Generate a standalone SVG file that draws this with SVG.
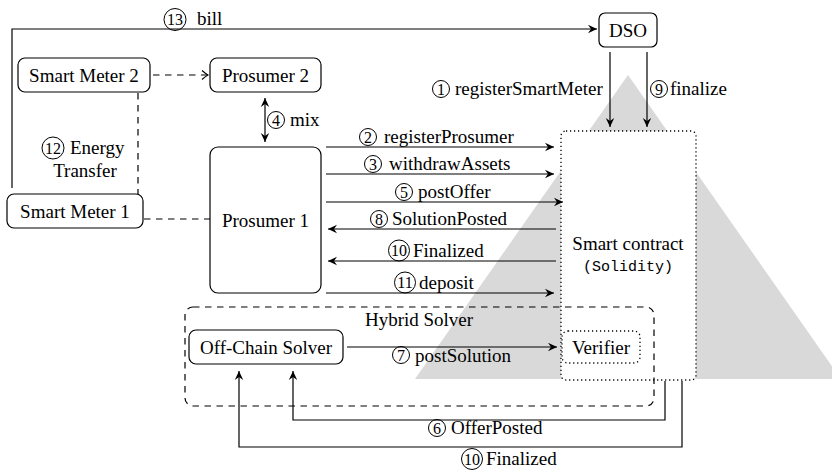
<svg xmlns="http://www.w3.org/2000/svg" width="832" height="475" viewBox="0 0 832 475">
<style>
text{font-family:"Liberation Serif","Times New Roman",serif;font-size:19px;fill:#000}
.mid{text-anchor:middle}
.mono{font-family:"Liberation Mono","Courier New",monospace;font-size:15px}
.num{font-size:16px;text-anchor:middle}
.box{fill:#fff;stroke:#000;stroke-width:1.2}
.dot{fill:#fff;stroke:#000;stroke-width:1.3;stroke-dasharray:1.2 2.8}
.dash{fill:none;stroke:#000;stroke-width:1.2;stroke-dasharray:6.5 5.5}
.ln{fill:none;stroke:#000;stroke-width:1.2}
.arr{marker-end:url(#stealth)}
.circ{fill:none;stroke:#000;stroke-width:1}
</style>
<defs>
<marker id="stealth" viewBox="-10 -5 11 10" refX="0" refY="0" markerWidth="11" markerHeight="10" markerUnits="userSpaceOnUse" orient="auto-start-reverse">
<path d="M0,0 L-9,-4.2 L-6,0 L-9,4.2 Z" fill="#000"/>
</marker>
<marker id="open" viewBox="-8 -6 9 12" refX="0" refY="0" markerWidth="9" markerHeight="12" markerUnits="userSpaceOnUse" orient="auto">
<path d="M-6,-4.5 Q-2,-1 0,0 Q-2,1 -6,4.5" fill="none" stroke="#000" stroke-width="1.1"/>
</marker>
</defs>

<polygon id="backdrop" points="628,75 415,379 841,379" fill="#d9d9d9"/>

<g id="smart-contract">
<rect class="dot" x="561" y="131" width="135" height="249" rx="5"/>
<text class="mid" x="628" y="250">Smart contract</text>
<text class="mid mono" x="628" y="271">(Solidity)</text>
</g>
<g id="verifier">
<rect class="dot" x="562" y="331" width="78" height="32" rx="6"/>
<text class="mid" x="601" y="354">Verifier</text>
</g>
<g id="hybrid-solver">
<rect class="dash" x="185" y="307" width="469" height="99" rx="8"/>
<text class="mid" x="419" y="326">Hybrid Solver</text>
</g>
<g id="offchain-solver">
<rect class="box" x="189" y="330" width="154" height="34" rx="7"/>
<text class="mid" x="266" y="354">Off-Chain Solver</text>
</g>
<g id="dso">
<rect class="box" x="599" y="13" width="58" height="34" rx="6"/>
<text class="mid" x="628" y="37">DSO</text>
</g>
<g id="smart-meter-2">
<rect class="box" x="18" y="58" width="132" height="34" rx="7"/>
<text class="mid" x="84" y="82">Smart Meter 2</text>
</g>
<g id="prosumer-2">
<rect class="box" x="210" y="58" width="111" height="34" rx="7"/>
<text class="mid" x="265.5" y="82">Prosumer 2</text>
</g>
<g id="smart-meter-1">
<rect class="box" x="7" y="194" width="136" height="34" rx="7"/>
<text class="mid" x="75" y="218">Smart Meter 1</text>
</g>
<g id="prosumer-1">
<rect class="box" x="210" y="147" width="111" height="146" rx="8"/>
<text class="mid" x="265.5" y="227">Prosumer 1</text>
</g>

<g id="connectors">
<path class="ln arr" d="M12,188 V29 H597"/>
<path class="dash" d="M153,75 H208" marker-end="url(#open)"/>
<path class="dash" d="M138,93 V194"/>
<path class="dash" d="M144,219 H210"/>
<path class="ln" d="M265,98 V142" marker-start="url(#stealth)" marker-end="url(#stealth)"/>
<path class="ln arr" d="M610,52 V127"/>
<path class="ln arr" d="M647,52 V127"/>
<path class="ln arr" d="M326,147 H554"/>
<path class="ln arr" d="M326,174 H554"/>
<path class="ln arr" d="M326,202 H563"/>
<path class="ln arr" d="M556,229 H328"/>
<path class="ln arr" d="M556,261 H328"/>
<path class="ln arr" d="M326,293 H554"/>
<path class="ln arr" d="M347,347 H557"/>
<path class="ln arr" d="M665,381 V420 H293 V371"/>
<path class="ln arr" d="M682,381 V447 H239 V371"/>
</g>

<g id="labels">
<circle class="circ" cx="175" cy="19.5" r="11"/><text class="num" x="175" y="25">13</text>
<text x="197" y="25">bill</text>

<circle class="circ" cx="441" cy="89" r="8.5"/><text class="num" x="441" y="94.5">1</text>
<text x="455" y="95">registerSmartMeter</text>
<circle class="circ" cx="659" cy="89" r="8.5"/><text class="num" x="659" y="94.5">9</text>
<text x="670" y="95">finalize</text>

<circle class="circ" cx="276" cy="120" r="8.5"/><text class="num" x="276" y="125.5">4</text>
<text x="290" y="126">mix</text>

<circle class="circ" cx="53" cy="148" r="11"/><text class="num" x="53" y="153.5">12</text>
<text x="70" y="154">Energy</text>
<text class="mid" x="85" y="177">Transfer</text>

<circle class="circ" cx="368" cy="137" r="8.5"/><text class="num" x="368" y="142.5">2</text>
<text x="384" y="143">registerProsumer</text>
<circle class="circ" cx="373" cy="164" r="8.5"/><text class="num" x="373" y="169.5">3</text>
<text x="389" y="170">withdrawAssets</text>
<circle class="circ" cx="404" cy="192" r="8.5"/><text class="num" x="404" y="197.5">5</text>
<text x="418" y="198">postOffer</text>
<circle class="circ" cx="379" cy="219" r="8.5"/><text class="num" x="379" y="224.5">8</text>
<text x="392" y="225">SolutionPosted</text>
<circle class="circ" cx="399" cy="250.5" r="10.5"/><text class="num" x="399" y="256">10</text>
<text x="413" y="257">Finalized</text>
<circle class="circ" cx="405" cy="282.5" r="10.5"/><text class="num" x="405" y="288">11</text>
<text x="419" y="289">deposit</text>

<circle class="circ" cx="401" cy="355" r="8.5"/><text class="num" x="401" y="360.5">7</text>
<text x="415" y="362">postSolution</text>
<circle class="circ" cx="437" cy="428" r="8.5"/><text class="num" x="437" y="433.5">6</text>
<text x="451" y="434">OfferPosted</text>
<circle class="circ" cx="472" cy="459" r="10.5"/><text class="num" x="472" y="464.5">10</text>
<text x="486" y="465">Finalized</text>
</g>
</svg>
